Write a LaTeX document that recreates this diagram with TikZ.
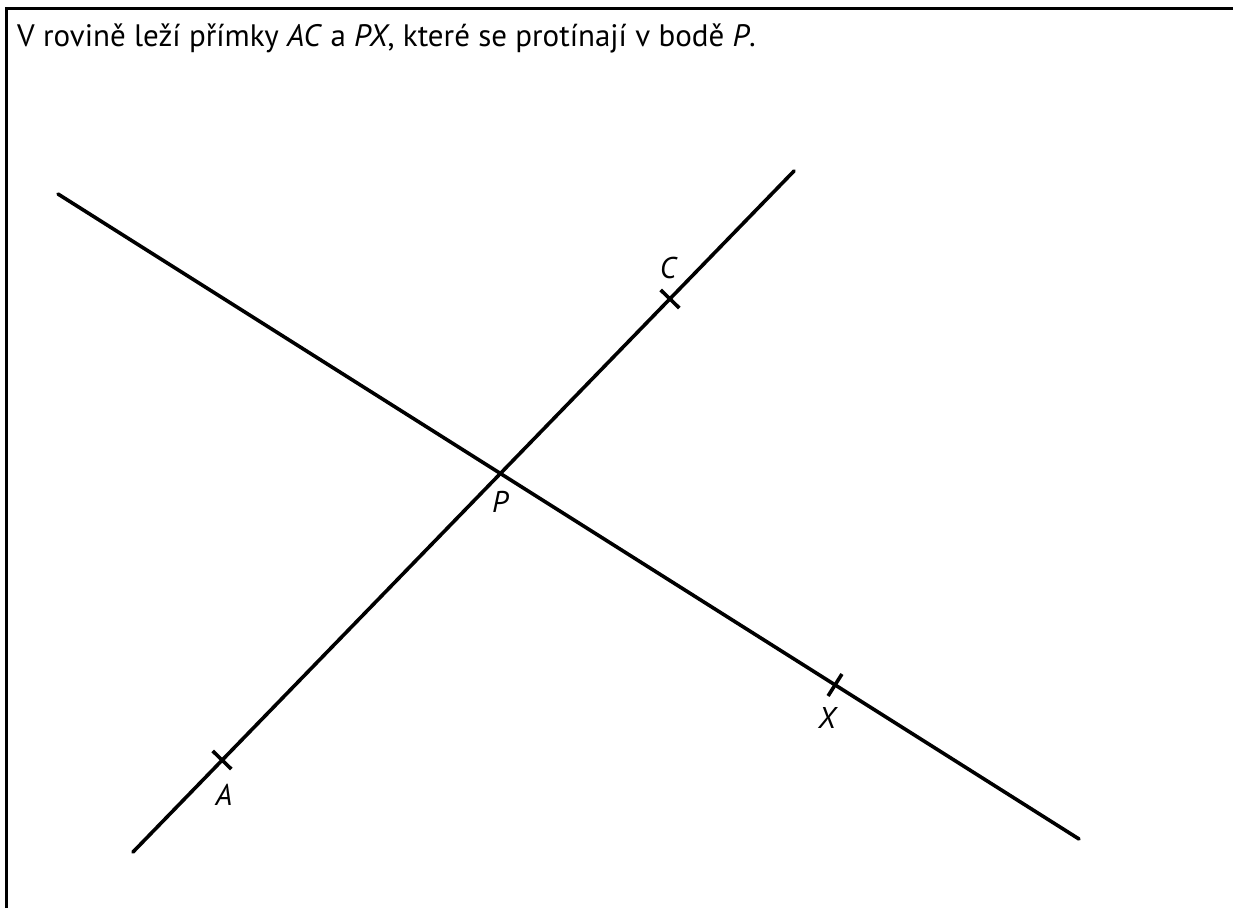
\documentclass[tikz,border=0pt]{standalone}
\usepackage{fontspec}
\setmainfont{PT Sans}
\usetikzlibrary{calc}
\begin{document}
\begin{tikzpicture}[x=1pt,y=-1pt,
  geoline/.style={line width=3.6pt,line cap=round},
  tickmark/.style={line width=3.6pt},
  frameline/.style={line width=3.6pt},
  ptlabel/.style={font=\fontsize{30}{33}\selectfont\itshape,inner sep=0pt}]
\useasboundingbox (0,0) rectangle (1233,908);
% frame
\coordinate (f1) at (6.5,908);
\coordinate (f2) at (6.5,8.5);
\coordinate (f3) at (1233,8.5);
\draw[frameline] (f1) -- (f2) -- (f3);
\node[anchor=west,inner sep=0pt,font=\fontsize{31}{34}\selectfont] (title) at (17,38) {V rovině leží přímky \textit{AC} a \textit{PX}, které se protínají v bodě \textit{P}.};
% line ends
\coordinate (a1) at (133,852);
\coordinate (a2) at (794,171);
\coordinate (x1) at (58,194);
\coordinate (x2) at (1079,839);
\coordinate (A) at (222,760);
\coordinate (C) at (670,299);
\coordinate (X) at (835,685);
\coordinate (P) at (500,473);
\draw[geoline] (a1) -- (a2);
\draw[geoline] (x1) -- (x2);
% ticks
\draw[tickmark] ($(A)!13pt!90:(a2)$) -- ($(A)!13pt!-90:(a2)$);
\draw[tickmark] ($(C)!13pt!90:(a2)$) -- ($(C)!13pt!-90:(a2)$);
\draw[tickmark] ($(X)!13pt!90:(x2)$) -- ($(X)!13pt!-90:(x2)$);
% labels
\node[ptlabel] (lA) at (224,795) {A};
\node[ptlabel] (lC) at (668,268) {C};
\node[ptlabel] (lX) at (827,718) {X};
\node[ptlabel] (lP) at (500,502) {P};
\end{tikzpicture}
\end{document}
